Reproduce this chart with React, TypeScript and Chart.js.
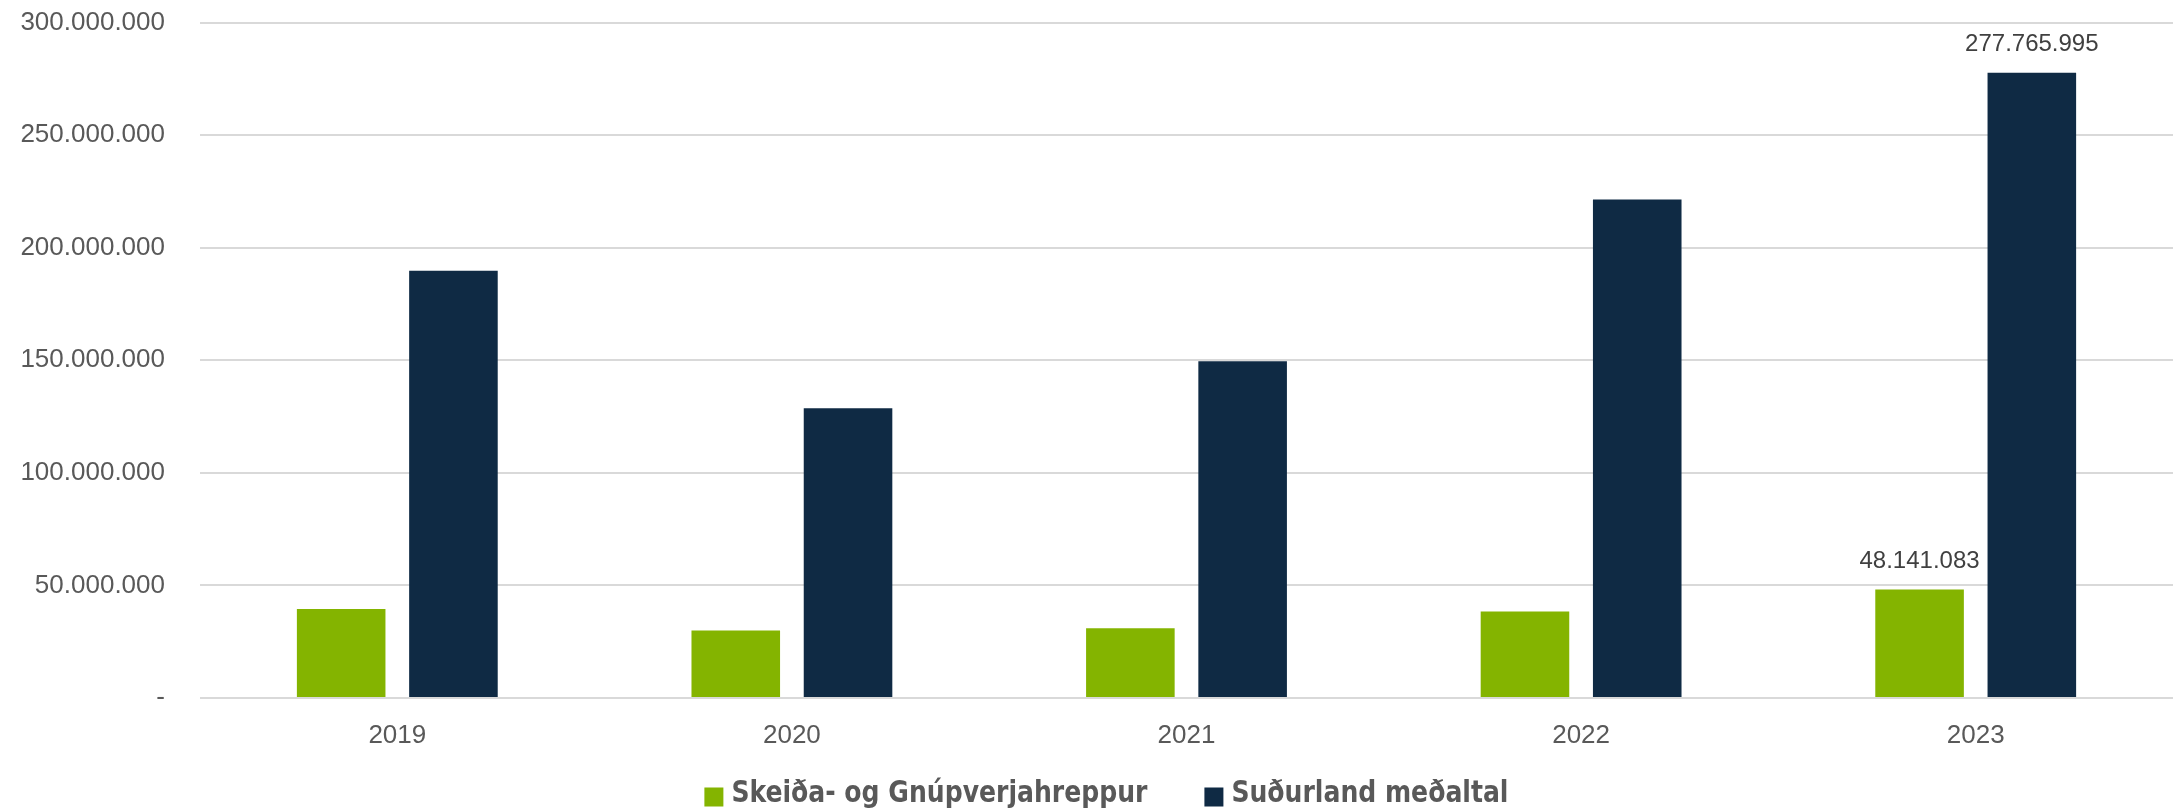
import React, { useEffect, useRef } from "react";
import { Chart, registerables } from "chart.js";

Chart.register(...registerables);

const categories: string[] = ["2019", "2020", "2021", "2022", "2023"];
const seriesNames: string[] = ["Skeiða- og Gnúpverjahreppur", "Suðurland meðaltal"];
const skeidaValues: number[] = [39500000, 30000000, 31000000, 38400000, 48141083];
const sudurlandValues: number[] = [189800000, 128700000, 149600000, 221400000, 277765995];
const seriesColors: string[] = ["#84B400", "#0F2A44"];
const yMax = 300000000;
const yStep = 50000000;
const labeledCategories: string[] = ["2023"];

const fmt = (v: number): string =>
  v === 0 ? "-" : String(Math.round(v)).replace(/\B(?=(\d{3})+(?!\d))/g, ".");

export default function App() {
  const ref = useRef<HTMLCanvasElement | null>(null);

  useEffect(() => {
    if (!ref.current) return;

    const valueLabels = {
      id: "valueLabels",
      afterDatasetsDraw(chart: any) {
        const ctx = chart.ctx;
        ctx.save();
        ctx.font = '24px "Liberation Sans"';
        ctx.fillStyle = "#404040";
        ctx.textAlign = "center";
        ctx.textBaseline = "middle";
        chart.data.datasets.forEach((ds: any, di: number) => {
          const meta = chart.getDatasetMeta(di);
          meta.data.forEach((bar: any, i: number) => {
            if (!labeledCategories.includes(categories[i])) return;
            ctx.fillText(fmt(ds.data[i]), bar.x, bar.y - 28);
          });
        });
        ctx.restore();
      },
    };

    const customLegend = {
      id: "customLegend",
      afterDraw(chart: any) {
        const ctx = chart.ctx;
        ctx.save();
        ctx.font = 'bold 31px "DejaVu Sans Condensed"';
        ctx.textBaseline = "middle";
        ctx.textAlign = "left";
        const box = 19;
        const gapText = 8;
        const gapItem = 57;
        const squeeze = 0.9;
        const widths = seriesNames.map((n) => ctx.measureText(n).width * squeeze);
        const total =
          widths.reduce((a, b) => a + b, 0) + seriesNames.length * (box + gapText) + gapItem * (seriesNames.length - 1);
        let x = chart.width * 0.508 - total / 2;
        const cy = chart.height - 13;
        seriesNames.forEach((n, i) => {
          ctx.fillStyle = seriesColors[i];
          ctx.fillRect(x, cy - box / 2 + 1, box, box);
          x += box + gapText;
          ctx.fillStyle = "#595959";
          ctx.save();
          ctx.translate(x, cy - 2);
          ctx.scale(squeeze, 1);
          ctx.fillText(n, 0, 0);
          ctx.restore();
          x += widths[i] + gapItem;
        });
        ctx.restore();
      },
    };

    const chart = new Chart(ref.current, {
      type: "bar",
      data: {
        labels: categories,
        datasets: [
          {
            label: seriesNames[0],
            data: skeidaValues,
            backgroundColor: seriesColors[0],
            categoryPercentage: 0.569,
            barPercentage: 0.789,
          },
          {
            label: seriesNames[1],
            data: sudurlandValues,
            backgroundColor: seriesColors[1],
            categoryPercentage: 0.569,
            barPercentage: 0.789,
          },
        ],
      },
      options: {
        animation: false,
        responsive: true,
        maintainAspectRatio: false,
        layout: { padding: { top: 0, right: 5, left: 0, bottom: 0 } },
        plugins: {
          legend: { display: false },
          tooltip: { enabled: false },
        },
        scales: {
          x: {
            grid: { display: false, drawTicks: false },
            border: { display: false },
            ticks: {
              color: "#595959",
              font: { family: '"Liberation Sans"', size: 26 },
              padding: 22,
            },
            afterFit(scale: any) {
              scale.height = 111;
            },
          },
          y: {
            min: 0,
            max: yMax,
            grid: {
              color: "#D9D9D9",
              lineWidth: 2,
              drawTicks: true,
              tickLength: 28,
              tickColor: "rgba(0,0,0,0)",
            },
            border: { display: false },
            ticks: {
              stepSize: yStep,
              color: "#595959",
              font: { family: '"Liberation Sans"', size: 26 },
              padding: 7,
              callback: (v: any) => fmt(Number(v)),
            },
            afterFit(scale: any) {
              scale.width = 200;
            },
          },
        },
      },
      plugins: [valueLabels, customLegend],
    });

    return () => chart.destroy();
  }, []);

  return (
    <div style={{ position: "absolute", left: 0, top: 0, width: 2178, height: 809, background: "#fff" }}>
      <canvas ref={ref} />
    </div>
  );
}
